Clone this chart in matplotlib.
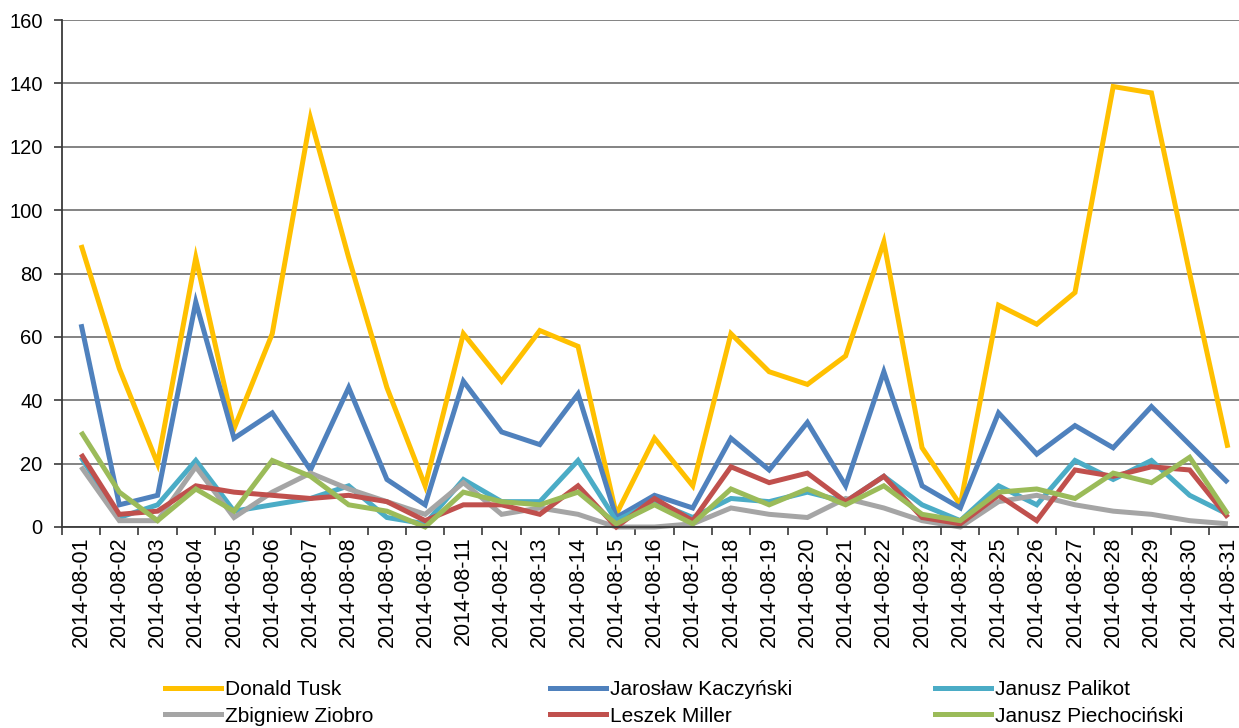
import matplotlib
matplotlib.use("Agg")
import matplotlib.pyplot as plt
from matplotlib.lines import Line2D

plt.rcParams['font.family'] = ['Liberation Sans', 'DejaVu Sans']

dates = [f"2014-08-{d:02d}" for d in range(1, 32)]

tusk = [89, 50, 20, 85, 31, 61, 129, 85, 44, 13, 61, 46, 62, 57, 4, 28,
        13, 61, 49, 45, 54, 90, 25, 7, 70, 64, 74, 139, 137, 80, 25]
kaczynski = [64, 7, 10, 71, 28, 36, 18, 44, 15, 7, 46, 30, 26, 42, 3, 10,
             6, 28, 18, 33, 13, 49, 13, 6, 36, 23, 32, 25, 38, 26, 14]
palikot = [22, 3, 7, 21, 5, 7, 9, 13, 3, 1, 15, 8, 8, 21, 2, 8,
           3, 9, 8, 11, 8, 16, 7, 2, 13, 7, 21, 15, 21, 10, 4]
ziobro = [19, 2, 2, 19, 3, 11, 17, 12, 8, 4, 14, 4, 6, 4, 0, 0,
          1, 6, 4, 3, 9, 6, 2, 0, 8, 10, 7, 5, 4, 2, 1]
miller = [23, 4, 5, 13, 11, 10, 9, 10, 8, 2, 7, 7, 4, 13, 0, 9,
          2, 19, 14, 17, 8, 16, 3, 1, 10, 2, 18, 16, 19, 18, 3]
piechocinski = [30, 11, 2, 12, 5, 21, 16, 7, 5, 0, 11, 8, 7, 11, 1, 7,
                1, 12, 7, 12, 7, 13, 4, 2, 11, 12, 9, 17, 14, 22, 4]

names = ["Donald Tusk", "Jarosław Kaczyński", "Janusz Palikot",
         "Zbigniew Ziobro", "Leszek Miller", "Janusz Piechociński"]
series = [tusk, kaczynski, palikot, ziobro, miller, piechocinski]
colors = ["#FFC000", "#4F81BD", "#4BACC6", "#A5A5A5", "#C0504D", "#9BBB59"]

W, H = 1239, 728
fig = plt.figure(figsize=(W / 100, H / 100), dpi=100)
ax = fig.add_axes([62 / W, 1 - 527 / H, (1247 - 62) / W, (527 - 20) / H])

x = list(range(len(dates)))
for vals, c, n in zip(series, colors, names):
    ax.plot(x, vals, color=c, lw=3.6, label=n, solid_joinstyle='miter',
            solid_capstyle='butt', clip_on=False)

ax.set_xlim(-0.5, len(dates) - 0.5)
ax.set_ylim(0, 160)
ax.set_yticks(range(0, 161, 20))
ax.yaxis.grid(True, color='#7a7a7a', lw=1.3)
ax.set_axisbelow(True)

ax.set_xticks(x)
ax.set_xticklabels(dates, rotation=90, fontsize=15.5)
ax.set_xticks([i - 0.5 for i in range(len(dates) + 1)], minor=True)
ax.tick_params(axis='x', which='major', length=0, pad=7)
ax.tick_params(axis='x', which='minor', length=6, width=1.2, color='#3a3a3a',
               direction='out')
ax.tick_params(axis='y', length=6, width=1.2, color='#3a3a3a', labelsize=14.5,
               pad=8)

for s in ['top', 'right']:
    ax.spines[s].set_visible(False)
for s in ['left', 'bottom']:
    ax.spines[s].set_color('#3a3a3a')
    ax.spines[s].set_linewidth(1.3)

# legend: three columns, two rows, placed below the axes
col_x = [165, 550, 935]
for ci, cx in enumerate(col_x):
    idx = [ci, ci + 3]
    handles = [Line2D([], [], color=colors[i], lw=3.6) for i in idx]
    labels = [names[i] for i in idx]
    fig.legend(handles, labels, loc='center left',
               bbox_to_anchor=(cx / W, 1 - 703 / H), frameon=False,
               fontsize=15, handlelength=2.7, handletextpad=0.2,
               borderpad=0, borderaxespad=0, labelspacing=0.35)

fig.savefig("out.png", dpi=100)
